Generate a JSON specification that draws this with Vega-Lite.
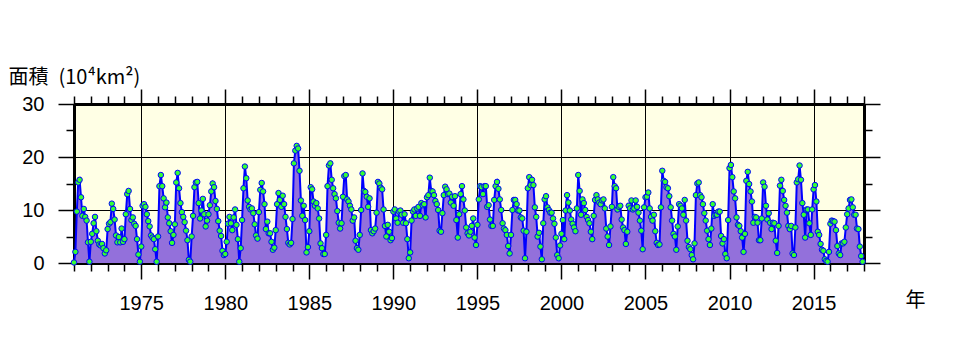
{
"$schema": "https://vega.github.io/schema/vega-lite/v6.json",
"width": 790, "height": 159,
"autosize": "none",
"padding": {"left": 74, "top": 104, "right": 90, "bottom": 87},
"background": "white",
"config": {"view": {"fill": "#FFFFE5", "stroke": null},
  "axis": {"labelFont": "Liberation Sans", "labelFontSize": 20, "labelColor": "black", "tickColor": "black", "domainColor": "black", "tickWidth": 1.5, "labelOverlap": false, "labelBound": false, "labelFlush": false}},
"data": {"values": [
{"t":1971,"v":0.1},{"t":1971.083,"v":2.1},{"t":1971.167,"v":9.7},{"t":1971.25,"v":15.2},{"t":1971.333,"v":15.7},{"t":1971.417,"v":12.4},{"t":1971.5,"v":8.9},{"t":1971.583,"v":10.2},{"t":1971.667,"v":8.7},{"t":1971.75,"v":8.0},{"t":1971.833,"v":3.9},{"t":1971.917,"v":0.25},
{"t":1972,"v":4.0},{"t":1972.083,"v":5.5},{"t":1972.167,"v":7.5},{"t":1972.25,"v":8.7},{"t":1972.333,"v":6.0},{"t":1972.417,"v":4.2},{"t":1972.5,"v":3.5},{"t":1972.583,"v":3.3},{"t":1972.667,"v":3.6},{"t":1972.75,"v":2.8},{"t":1972.833,"v":1.8},{"t":1972.917,"v":2.4},
{"t":1973,"v":6.4},{"t":1973.083,"v":7.4},{"t":1973.167,"v":7.7},{"t":1973.25,"v":11.2},{"t":1973.333,"v":10.2},{"t":1973.417,"v":8.2},{"t":1973.5,"v":5.2},{"t":1973.583,"v":3.9},{"t":1973.667,"v":4.9},{"t":1973.75,"v":3.9},{"t":1973.833,"v":6.5},{"t":1973.917,"v":4.0},
{"t":1974,"v":4.5},{"t":1974.083,"v":9.2},{"t":1974.167,"v":13.0},{"t":1974.25,"v":13.6},{"t":1974.333,"v":10.2},{"t":1974.417,"v":8.1},{"t":1974.5,"v":8.6},{"t":1974.583,"v":7.4},{"t":1974.667,"v":7.0},{"t":1974.75,"v":4.5},{"t":1974.833,"v":1.6},{"t":1974.917,"v":0.25},
{"t":1975,"v":3.1},{"t":1975.083,"v":10.8},{"t":1975.167,"v":11.1},{"t":1975.25,"v":10.6},{"t":1975.333,"v":9.2},{"t":1975.417,"v":7.9},{"t":1975.5,"v":6.9},{"t":1975.583,"v":5.2},{"t":1975.667,"v":4.8},{"t":1975.75,"v":4.5},{"t":1975.833,"v":2.6},{"t":1975.917,"v":0.25},
{"t":1976,"v":5.0},{"t":1976.083,"v":14.5},{"t":1976.167,"v":16.6},{"t":1976.25,"v":14.5},{"t":1976.333,"v":12.2},{"t":1976.417,"v":10.5},{"t":1976.5,"v":11.4},{"t":1976.583,"v":8.6},{"t":1976.667,"v":7.5},{"t":1976.75,"v":6.0},{"t":1976.833,"v":3.8},{"t":1976.917,"v":5.3},
{"t":1977,"v":7.3},{"t":1977.083,"v":15.2},{"t":1977.167,"v":17.0},{"t":1977.25,"v":14.1},{"t":1977.333,"v":11.3},{"t":1977.417,"v":9.6},{"t":1977.5,"v":8.7},{"t":1977.583,"v":7.7},{"t":1977.667,"v":6.1},{"t":1977.75,"v":4.3},{"t":1977.833,"v":0.6},{"t":1977.917,"v":0.25},
{"t":1978,"v":5.0},{"t":1978.083,"v":8.9},{"t":1978.167,"v":14.3},{"t":1978.25,"v":15.2},{"t":1978.333,"v":15.3},{"t":1978.417,"v":11.3},{"t":1978.5,"v":8.4},{"t":1978.583,"v":9.9},{"t":1978.667,"v":12.1},{"t":1978.75,"v":9.2},{"t":1978.833,"v":6.9},{"t":1978.917,"v":8.0},
{"t":1979,"v":9.2},{"t":1979.083,"v":10.9},{"t":1979.167,"v":13.5},{"t":1979.25,"v":15.0},{"t":1979.333,"v":14.3},{"t":1979.417,"v":11.7},{"t":1979.5,"v":10.2},{"t":1979.583,"v":7.9},{"t":1979.667,"v":6.1},{"t":1979.75,"v":5.1},{"t":1979.833,"v":2.3},{"t":1979.917,"v":1.5},
{"t":1980,"v":1.7},{"t":1980.083,"v":4.0},{"t":1980.167,"v":7.4},{"t":1980.25,"v":8.7},{"t":1980.333,"v":7.5},{"t":1980.417,"v":6.2},{"t":1980.5,"v":8.6},{"t":1980.583,"v":10.1},{"t":1980.667,"v":7.2},{"t":1980.75,"v":4.5},{"t":1980.833,"v":0.25},{"t":1980.917,"v":2.8},
{"t":1981,"v":8.1},{"t":1981.083,"v":14.1},{"t":1981.167,"v":18.2},{"t":1981.25,"v":16.0},{"t":1981.333,"v":11.8},{"t":1981.417,"v":10.6},{"t":1981.5,"v":10.1},{"t":1981.583,"v":10.3},{"t":1981.667,"v":9.4},{"t":1981.75,"v":7.3},{"t":1981.833,"v":5.2},{"t":1981.917,"v":4.6},
{"t":1982,"v":9.6},{"t":1982.083,"v":13.8},{"t":1982.167,"v":15.1},{"t":1982.25,"v":13.5},{"t":1982.333,"v":11.1},{"t":1982.417,"v":6.4},{"t":1982.5,"v":7.8},{"t":1982.583,"v":5.6},{"t":1982.667,"v":5.6},{"t":1982.75,"v":4.0},{"t":1982.833,"v":2.5},{"t":1982.917,"v":2.9},
{"t":1983,"v":6.2},{"t":1983.083,"v":11.1},{"t":1983.167,"v":13.2},{"t":1983.25,"v":11.9},{"t":1983.333,"v":10.6},{"t":1983.417,"v":12.7},{"t":1983.5,"v":11.1},{"t":1983.583,"v":8.7},{"t":1983.667,"v":6.4},{"t":1983.75,"v":3.8},{"t":1983.833,"v":3.5},{"t":1983.917,"v":3.8},
{"t":1984,"v":8.3},{"t":1984.083,"v":18.8},{"t":1984.167,"v":21.2},{"t":1984.25,"v":22.1},{"t":1984.333,"v":21.6},{"t":1984.417,"v":17.4},{"t":1984.5,"v":11.8},{"t":1984.583,"v":8.9},{"t":1984.667,"v":10.8},{"t":1984.75,"v":8.1},{"t":1984.833,"v":2.0},{"t":1984.917,"v":3.0},
{"t":1985,"v":6.0},{"t":1985.083,"v":14.3},{"t":1985.167,"v":13.9},{"t":1985.25,"v":11.6},{"t":1985.333,"v":10.8},{"t":1985.417,"v":11.3},{"t":1985.5,"v":10.3},{"t":1985.583,"v":8.4},{"t":1985.667,"v":3.7},{"t":1985.75,"v":2.8},{"t":1985.833,"v":1.7},{"t":1985.917,"v":1.7},
{"t":1986,"v":5.3},{"t":1986.083,"v":14.5},{"t":1986.167,"v":18.4},{"t":1986.25,"v":18.8},{"t":1986.333,"v":15.7},{"t":1986.417,"v":14.1},{"t":1986.5,"v":13.0},{"t":1986.583,"v":12.2},{"t":1986.667,"v":9.8},{"t":1986.75,"v":7.6},{"t":1986.833,"v":6.5},{"t":1986.917,"v":7.5},
{"t":1987,"v":12.5},{"t":1987.083,"v":16.4},{"t":1987.167,"v":16.6},{"t":1987.25,"v":12.0},{"t":1987.333,"v":11.6},{"t":1987.417,"v":10.8},{"t":1987.5,"v":10.1},{"t":1987.583,"v":8.0},{"t":1987.667,"v":8.6},{"t":1987.75,"v":4.2},{"t":1987.833,"v":2.8},{"t":1987.917,"v":2.5},
{"t":1988,"v":5.3},{"t":1988.083,"v":10.0},{"t":1988.167,"v":16.9},{"t":1988.25,"v":13.6},{"t":1988.333,"v":13.4},{"t":1988.417,"v":12.5},{"t":1988.5,"v":10.6},{"t":1988.583,"v":12.2},{"t":1988.667,"v":6.2},{"t":1988.75,"v":5.6},{"t":1988.833,"v":6.0},{"t":1988.917,"v":6.5},
{"t":1989,"v":9.5},{"t":1989.083,"v":15.3},{"t":1989.167,"v":15.0},{"t":1989.25,"v":14.2},{"t":1989.333,"v":13.9},{"t":1989.417,"v":10.1},{"t":1989.5,"v":7.0},{"t":1989.583,"v":5.0},{"t":1989.667,"v":7.2},{"t":1989.75,"v":5.9},{"t":1989.833,"v":4.3},{"t":1989.917,"v":4.7},
{"t":1990,"v":9.7},{"t":1990.083,"v":10.1},{"t":1990.167,"v":8.4},{"t":1990.25,"v":7.6},{"t":1990.333,"v":9.7},{"t":1990.417,"v":9.9},{"t":1990.5,"v":9.1},{"t":1990.583,"v":7.6},{"t":1990.667,"v":9.2},{"t":1990.75,"v":7.5},{"t":1990.833,"v":4.5},{"t":1990.917,"v":0.9},
{"t":1991,"v":2.0},{"t":1991.083,"v":8.0},{"t":1991.167,"v":9.7},{"t":1991.25,"v":10.1},{"t":1991.333,"v":8.9},{"t":1991.417,"v":10.3},{"t":1991.5,"v":10.6},{"t":1991.583,"v":8.9},{"t":1991.667,"v":11.3},{"t":1991.75,"v":10.9},{"t":1991.833,"v":11.1},{"t":1991.917,"v":8.6},
{"t":1992,"v":12.4},{"t":1992.083,"v":12.8},{"t":1992.167,"v":16.1},{"t":1992.25,"v":13.6},{"t":1992.333,"v":13.5},{"t":1992.417,"v":12.8},{"t":1992.5,"v":11.7},{"t":1992.583,"v":11.1},{"t":1992.667,"v":10.0},{"t":1992.75,"v":6.1},{"t":1992.833,"v":5.9},{"t":1992.917,"v":9.4},
{"t":1993,"v":12.8},{"t":1993.083,"v":14.4},{"t":1993.167,"v":13.9},{"t":1993.25,"v":13.0},{"t":1993.333,"v":13.1},{"t":1993.417,"v":11.4},{"t":1993.5,"v":12.5},{"t":1993.583,"v":10.8},{"t":1993.667,"v":12.6},{"t":1993.75,"v":8.1},{"t":1993.833,"v":4.8},{"t":1993.917,"v":9.2},
{"t":1994,"v":13.0},{"t":1994.083,"v":14.5},{"t":1994.167,"v":12.0},{"t":1994.25,"v":9.9},{"t":1994.333,"v":6.7},{"t":1994.417,"v":5.6},{"t":1994.5,"v":5.2},{"t":1994.583,"v":5.9},{"t":1994.667,"v":7.0},{"t":1994.75,"v":8.4},{"t":1994.833,"v":4.8},{"t":1994.917,"v":3.4},
{"t":1995,"v":7.2},{"t":1995.083,"v":12.0},{"t":1995.167,"v":14.5},{"t":1995.25,"v":14.3},{"t":1995.333,"v":13.0},{"t":1995.417,"v":14.5},{"t":1995.5,"v":14.5},{"t":1995.583,"v":10.6},{"t":1995.667,"v":10.9},{"t":1995.75,"v":8.2},{"t":1995.833,"v":7.0},{"t":1995.917,"v":7.0},
{"t":1996,"v":11.9},{"t":1996.083,"v":14.5},{"t":1996.167,"v":15.3},{"t":1996.25,"v":14.0},{"t":1996.333,"v":12.0},{"t":1996.417,"v":10.0},{"t":1996.5,"v":7.5},{"t":1996.583,"v":6.5},{"t":1996.667,"v":6.2},{"t":1996.75,"v":5.3},{"t":1996.833,"v":3.2},{"t":1996.917,"v":1.8},
{"t":1997,"v":5.3},{"t":1997.083,"v":10.0},{"t":1997.167,"v":11.9},{"t":1997.25,"v":11.9},{"t":1997.333,"v":11.1},{"t":1997.417,"v":9.9},{"t":1997.5,"v":9.9},{"t":1997.583,"v":8.6},{"t":1997.667,"v":8.4},{"t":1997.75,"v":6.1},{"t":1997.833,"v":0.9},{"t":1997.917,"v":5.9},
{"t":1998,"v":14.1},{"t":1998.083,"v":16.2},{"t":1998.167,"v":14.7},{"t":1998.25,"v":15.7},{"t":1998.333,"v":14.7},{"t":1998.417,"v":10.5},{"t":1998.5,"v":8.7},{"t":1998.583,"v":5.0},{"t":1998.667,"v":5.7},{"t":1998.75,"v":3.1},{"t":1998.833,"v":0.7},{"t":1998.917,"v":7.5},
{"t":1999,"v":12.0},{"t":1999.083,"v":12.6},{"t":1999.167,"v":10.5},{"t":1999.25,"v":10.0},{"t":1999.333,"v":9.5},{"t":1999.417,"v":9.5},{"t":1999.5,"v":8.4},{"t":1999.583,"v":7.4},{"t":1999.667,"v":4.8},{"t":1999.75,"v":1.5},{"t":1999.833,"v":0.9},{"t":1999.917,"v":3.3},
{"t":2000,"v":5.5},{"t":2000.083,"v":8.1},{"t":2000.167,"v":4.5},{"t":2000.25,"v":9.9},{"t":2000.333,"v":12.8},{"t":2000.417,"v":11.4},{"t":2000.5,"v":9.9},{"t":2000.583,"v":8.2},{"t":2000.667,"v":7.4},{"t":2000.75,"v":6.7},{"t":2000.833,"v":6.0},{"t":2000.917,"v":10.3},
{"t":2001,"v":16.6},{"t":2001.083,"v":13.6},{"t":2001.167,"v":9.1},{"t":2001.25,"v":12.0},{"t":2001.333,"v":11.3},{"t":2001.417,"v":10.0},{"t":2001.5,"v":8.7},{"t":2001.583,"v":8.1},{"t":2001.667,"v":7.5},{"t":2001.75,"v":5.9},{"t":2001.833,"v":4.5},{"t":2001.917,"v":8.9},
{"t":2002,"v":11.9},{"t":2002.083,"v":12.8},{"t":2002.167,"v":12.0},{"t":2002.25,"v":11.4},{"t":2002.333,"v":11.1},{"t":2002.417,"v":11.8},{"t":2002.5,"v":12.0},{"t":2002.583,"v":10.3},{"t":2002.667,"v":6.5},{"t":2002.75,"v":5.0},{"t":2002.833,"v":3.4},{"t":2002.917,"v":6.9},
{"t":2003,"v":10.6},{"t":2003.083,"v":16.2},{"t":2003.167,"v":14.5},{"t":2003.25,"v":14.1},{"t":2003.333,"v":10.1},{"t":2003.417,"v":10.6},{"t":2003.5,"v":10.8},{"t":2003.583,"v":8.2},{"t":2003.667,"v":6.7},{"t":2003.75,"v":6.2},{"t":2003.833,"v":3.6},{"t":2003.917,"v":5.9},
{"t":2004,"v":10.8},{"t":2004.083,"v":10.3},{"t":2004.167,"v":11.8},{"t":2004.25,"v":10.1},{"t":2004.333,"v":10.3},{"t":2004.417,"v":11.8},{"t":2004.5,"v":10.6},{"t":2004.583,"v":9.5},{"t":2004.667,"v":8.0},{"t":2004.75,"v":6.1},{"t":2004.833,"v":2.6},{"t":2004.917,"v":10.5},
{"t":2005,"v":12.4},{"t":2005.083,"v":12.5},{"t":2005.167,"v":13.3},{"t":2005.25,"v":10.3},{"t":2005.333,"v":8.7},{"t":2005.417,"v":8.0},{"t":2005.5,"v":9.1},{"t":2005.583,"v":6.0},{"t":2005.667,"v":3.8},{"t":2005.75,"v":3.4},{"t":2005.833,"v":3.5},{"t":2005.917,"v":10.5},
{"t":2006,"v":17.4},{"t":2006.083,"v":15.5},{"t":2006.167,"v":15.3},{"t":2006.25,"v":14.3},{"t":2006.333,"v":14.1},{"t":2006.417,"v":12.6},{"t":2006.5,"v":10.5},{"t":2006.583,"v":8.0},{"t":2006.667,"v":5.5},{"t":2006.75,"v":5.0},{"t":2006.833,"v":2.5},{"t":2006.917,"v":6.9},
{"t":2007,"v":11.1},{"t":2007.083,"v":10.8},{"t":2007.167,"v":10.3},{"t":2007.25,"v":9.1},{"t":2007.333,"v":11.9},{"t":2007.417,"v":8.0},{"t":2007.5,"v":4.2},{"t":2007.583,"v":3.0},{"t":2007.667,"v":2.6},{"t":2007.75,"v":1.5},{"t":2007.833,"v":0.7},{"t":2007.917,"v":3.7},
{"t":2008,"v":12.8},{"t":2008.083,"v":15.0},{"t":2008.167,"v":15.2},{"t":2008.25,"v":12.8},{"t":2008.333,"v":12.4},{"t":2008.417,"v":11.1},{"t":2008.5,"v":9.4},{"t":2008.583,"v":8.0},{"t":2008.667,"v":6.1},{"t":2008.75,"v":4.5},{"t":2008.833,"v":3.4},{"t":2008.917,"v":6.5},
{"t":2009,"v":11.1},{"t":2009.083,"v":8.9},{"t":2009.167,"v":9.1},{"t":2009.25,"v":9.1},{"t":2009.333,"v":9.7},{"t":2009.417,"v":9.7},{"t":2009.5,"v":5.1},{"t":2009.583,"v":3.7},{"t":2009.667,"v":4.5},{"t":2009.75,"v":1.7},{"t":2009.833,"v":0.9},{"t":2009.917,"v":8.1},
{"t":2010,"v":17.9},{"t":2010.083,"v":18.5},{"t":2010.167,"v":16.2},{"t":2010.25,"v":13.5},{"t":2010.333,"v":12.2},{"t":2010.417,"v":8.6},{"t":2010.5,"v":7.2},{"t":2010.583,"v":7.0},{"t":2010.667,"v":6.0},{"t":2010.75,"v":4.8},{"t":2010.833,"v":2.1},{"t":2010.917,"v":5.5},
{"t":2011,"v":15.5},{"t":2011.083,"v":17.2},{"t":2011.167,"v":14.9},{"t":2011.25,"v":13.5},{"t":2011.333,"v":11.6},{"t":2011.417,"v":7.6},{"t":2011.5,"v":8.7},{"t":2011.583,"v":8.6},{"t":2011.667,"v":7.6},{"t":2011.75,"v":4.3},{"t":2011.833,"v":4.3},{"t":2011.917,"v":8.4},
{"t":2012,"v":15.2},{"t":2012.083,"v":14.4},{"t":2012.167,"v":10.8},{"t":2012.25,"v":8.2},{"t":2012.333,"v":9.4},{"t":2012.417,"v":7.6},{"t":2012.5,"v":6.4},{"t":2012.583,"v":7.6},{"t":2012.667,"v":7.5},{"t":2012.75,"v":4.2},{"t":2012.833,"v":1.9},{"t":2012.917,"v":7.0},
{"t":2013,"v":14.6},{"t":2013.083,"v":15.7},{"t":2013.167,"v":13.6},{"t":2013.25,"v":11.9},{"t":2013.333,"v":10.8},{"t":2013.417,"v":9.5},{"t":2013.5,"v":7.0},{"t":2013.583,"v":6.4},{"t":2013.667,"v":7.0},{"t":2013.75,"v":1.8},{"t":2013.833,"v":1.5},{"t":2013.917,"v":6.7},
{"t":2014,"v":15.2},{"t":2014.083,"v":15.8},{"t":2014.167,"v":18.4},{"t":2014.25,"v":15.7},{"t":2014.333,"v":11.3},{"t":2014.417,"v":9.1},{"t":2014.5,"v":4.8},{"t":2014.583,"v":10.1},{"t":2014.667,"v":10.1},{"t":2014.75,"v":7.5},{"t":2014.833,"v":5.3},{"t":2014.917,"v":10.1},
{"t":2015,"v":13.9},{"t":2015.083,"v":14.7},{"t":2015.167,"v":11.6},{"t":2015.25,"v":5.9},{"t":2015.333,"v":5.3},{"t":2015.417,"v":3.6},{"t":2015.5,"v":2.5},{"t":2015.583,"v":2.3},{"t":2015.667,"v":0.7},{"t":2015.75,"v":0.4},{"t":2015.833,"v":0.25},{"t":2015.917,"v":2.1},
{"t":2016,"v":7.4},{"t":2016.083,"v":8.0},{"t":2016.167,"v":7.9},{"t":2016.25,"v":7.8},{"t":2016.333,"v":6.2},{"t":2016.417,"v":3.2},{"t":2016.5,"v":1.8},{"t":2016.583,"v":1.5},{"t":2016.667,"v":3.7},{"t":2016.75,"v":3.7},{"t":2016.833,"v":4.0},{"t":2016.917,"v":6.7},
{"t":2017,"v":9.2},{"t":2017.083,"v":10.3},{"t":2017.167,"v":11.9},{"t":2017.25,"v":12.0},{"t":2017.333,"v":10.5},{"t":2017.417,"v":9.1},{"t":2017.5,"v":9.1},{"t":2017.583,"v":6.5},{"t":2017.667,"v":6.4},{"t":2017.75,"v":3.1},{"t":2017.833,"v":1.3},{"t":2017.917,"v":0.25}
]},
"layer": [
 {"mark": {"type": "area", "color": "#9370DB", "opacity": 1,
   "line": {"color": "#0000FF", "strokeWidth": 2},
   "point": {"filled": true, "fill": "#33FF33", "stroke": "#0000FF", "strokeWidth": 1, "size": 30, "opacity": 1}},
  "encoding": {
   "x": {"field": "t", "type": "quantitative", "scale": {"domain": [1971, 2018], "nice": false, "zero": false},
    "axis": {"orient": "bottom", "values": [1971,1972,1973,1974,1975,1976,1977,1978,1979,1980,1981,1982,1983,1984,1985,1986,1987,1988,1989,1990,1991,1992,1993,1994,1995,1996,1997,1998,1999,2000,2001,2002,2003,2004,2005,2006,2007,2008,2009,2010,2011,2012,2013,2014,2015,2016,2017,2018],
     "format": "d", "labelExpr": "datum.value % 5 === 0 ? datum.label : ''",
     "tickSize": {"condition": {"test": "datum.value % 5 === 0", "value": 16}, "value": 8},
     "labelPadding": 14,
     "grid": true, "gridColor": "#000000", "gridWidth": 1,
     "gridOpacity": {"condition": {"test": "datum.value % 5 === 0", "value": 1}, "value": 0},
     "domainWidth": 3,
     "title": "年", "titleX": 841, "titleY": 37, "titleAlign": "center", "titleBaseline": "middle", "titleFont": "Noto Sans CJK JP", "titleFontSize": 20, "titleFontWeight": "normal", "titleColor": "black"}},
   "y": {"field": "v", "type": "quantitative", "scale": {"domain": [0, 30], "nice": false, "zero": true},
    "axis": {"orient": "left", "values": [0,5,10,15,20,25,30],
     "labelExpr": "datum.value % 10 === 0 ? datum.label : ''",
     "tickSize": {"condition": {"test": "datum.value % 10 === 0", "value": 16}, "value": 8},
     "labelPadding": 14,
     "grid": true, "gridColor": "#000000", "gridWidth": 1,
     "gridOpacity": {"condition": {"test": "datum.value % 10 === 0", "value": 1}, "value": 0},
     "domainWidth": 3,
     "title": "面積\u2002(10⁴km²)", "titleAngle": 0, "titleX": -66, "titleY": -17, "titleAlign": "left", "titleBaseline": "bottom", "titleFont": "Noto Sans CJK JP", "titleFontSize": 20, "titleFontWeight": "normal", "titleColor": "black"}}
  }},
 {"mark": {"type": "point", "opacity": 0},
  "encoding": {
   "x": {"field": "t", "type": "quantitative",
    "axis": {"orient": "top", "values": [1971,1972,1973,1974,1975,1976,1977,1978,1979,1980,1981,1982,1983,1984,1985,1986,1987,1988,1989,1990,1991,1992,1993,1994,1995,1996,1997,1998,1999,2000,2001,2002,2003,2004,2005,2006,2007,2008,2009,2010,2011,2012,2013,2014,2015,2016,2017,2018],
     "labels": false, "grid": false, "domainWidth": 3, "title": null,
     "tickSize": {"condition": {"test": "datum.value % 5 === 0", "value": 15}, "value": 8}}},
   "y": {"field": "v", "type": "quantitative",
    "axis": {"orient": "right", "values": [0,5,10,15,20,25,30], "labels": false, "grid": false, "domainWidth": 3, "title": null,
     "tickSize": {"condition": {"test": "datum.value % 10 === 0", "value": 16}, "value": 8}}}
  }}
],
"resolve": {"axis": {"x": "independent", "y": "independent"}}
}
